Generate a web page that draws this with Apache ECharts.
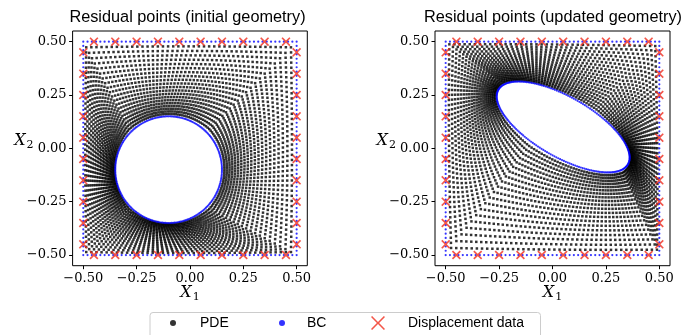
<!DOCTYPE html>
<html>
<head>
<meta charset="utf-8">
<script src="https://cdn.jsdelivr.net/npm/echarts@6/dist/echarts.min.js"></script>
<style>
  html, body { margin: 0; padding: 0; background: #fff; }
  #chart { width: 684px; height: 335px; }
</style>
</head>
<body>
<div id="chart"></div>
<script>
// ---- data ----
const titles = ['Residual points (initial geometry)', 'Residual points (updated geometry)'];
const legendNames = ['PDE', 'BC', 'Displacement data'];
const axisTicks = [-0.5, -0.25, 0, 0.25, 0.5];
const axisRange = [-0.55, 0.55];
// displacement-data coordinates along each side of the square
const dispCoords = [-0.45, -0.35, -0.25, -0.15, -0.05, 0.05, 0.15, 0.25, 0.35, 0.45];
// hole geometry: [centre x, centre y, semi-axis a, semi-axis b, tilt (deg)]
const holeInitial = [-0.10, -0.10, 0.25, 0.25, 0];
const holeUpdated = [0.05, 0.10, 0.35, 0.14, -30];
// mesh resolution
const raysPerSide = 40;     // residual rays per square side
const ringCount = 21;       // ring intervals between hole and outer boundary
const ringGrowth = 0.5;     // ring spacing grows outward
const bcPerSide = 50;       // BC points per square side
const bcOnHole = 220;       // BC points on hole boundary

// ---- geometry helpers ----
function holePoint(h, th) {
  const al = h[4] * Math.PI / 180, c = Math.cos(al), s = Math.sin(al);
  const ux = c * Math.cos(th) + s * Math.sin(th);
  const uy = -s * Math.cos(th) + c * Math.sin(th);
  const px = h[2] * ux, py = h[3] * uy;
  return [h[0] + c * px - s * py, h[1] + s * px + c * py];
}
function squarePoint(k, n) {
  const side = Math.floor(k / n), f = (k % n) / n;
  if (side === 0) return [0.5, -0.5 + f];
  if (side === 1) return [0.5 - f, 0.5];
  if (side === 2) return [-0.5, 0.5 - f];
  return [-0.5 + f, -0.5];
}
function pdePoints(h) {
  const out = [], n = raysPerSide * 4;
  for (let k = 0; k < n; k++) {
    const th = -Math.PI / 4 + k * 2 * Math.PI / n;
    const a = holePoint(h, th), b = squarePoint(k, raysPerSide);
    for (let j = 1; j < ringCount; j++) {
      const u = j / ringCount;
      const t = u * (1 + ringGrowth * u) / (1 + ringGrowth);
      out.push([a[0] + (b[0] - a[0]) * t, a[1] + (b[1] - a[1]) * t]);
    }
  }
  return out;
}
function bcPoints(h) {
  const out = [];
  for (let k = 0; k < bcPerSide * 4; k++) out.push(squarePoint(k, bcPerSide));
  for (let k = 0; k < bcOnHole; k++) out.push(holePoint(h, k * 2 * Math.PI / bcOnHole));
  return out;
}
function dispPoints() {
  const out = [];
  dispCoords.forEach(v => { out.push([v, 0.5]); out.push([v, -0.5]); out.push([-0.5, v]); out.push([0.5, v]); });
  return out;
}

const xSym = 'path://M0,1.8L1.8,0L7,5.2L12.2,0L14,1.8L8.8,7L14,12.2L12.2,14L7,8.8L1.8,14L0,12.2L5.2,7Z';
const xSymLegend = 'path://M0,1.1L1.1,0L7,5.9L12.9,0L14,1.1L8.1,7L14,12.9L12.9,14L7,8.1L1.1,14L0,12.9L5.9,7Z';
const red = '#f02c1c', blue = '#0000ff', black = '#000000';

const tickFmt = v => (v < 0 ? '\u2212' : '') + Math.abs(v).toFixed(2);
const serif = 'DejaVu Serif';
const nameRich = {
  x: { fontFamily: serif, fontStyle: 'italic', fontSize: 16, color: '#000' },
  s: { fontFamily: serif, fontSize: 11, color: '#000', verticalAlign: 'bottom', padding: [9, 0, 0, 1] }
};

const grids = [
  { left: 72.6, top: 31, width: 234.7, height: 234.7 },
  { left: 435, top: 31, width: 235, height: 234.7 }
];
const titleCenters = [187.5, 553];

function xAxisFor(i) {
  return {
    gridIndex: i, type: 'value', min: axisRange[0], max: axisRange[1],
    name: '{x|X}{s|1}', nameLocation: 'middle', nameGap: 17, nameMoveOverlap: false,
    nameTextStyle: { rich: nameRich },
    axisLine: { show: false, onZero: false },
    splitLine: { show: false },
    axisTick: { show: true, length: 3.5, customValues: axisTicks, lineStyle: { color: '#000', width: 1 } },
    axisLabel: { customValues: axisTicks, formatter: tickFmt, fontFamily: serif, fontSize: 13, color: '#000', margin: 6 }
  };
}
function yAxisFor(i) {
  return {
    gridIndex: i, type: 'value', min: axisRange[0], max: axisRange[1],
    name: '{x|X}{s|2}', nameLocation: 'middle', nameGap: 39, nameRotate: 0, nameMoveOverlap: false,
    nameTextStyle: { rich: nameRich, padding: [0, 0, 16, 0] },
    axisLine: { show: false, onZero: false },
    splitLine: { show: false },
    axisTick: { show: true, length: 3.5, customValues: axisTicks, lineStyle: { color: '#000', width: 1 } },
    axisLabel: { customValues: axisTicks, formatter: tickFmt, fontFamily: serif, fontSize: 13, color: '#000', margin: 6 }
  };
}

const holes = [holeInitial, holeUpdated];
const series = [];
holes.forEach((h, i) => {
  series.push({ name: legendNames[0], type: 'scatter', xAxisIndex: i, yAxisIndex: i, data: pdePoints(h),
    symbol: 'rect', symbolSize: 2.5, itemStyle: { color: black }, silent: true, z: 2 });
  series.push({ name: legendNames[1], type: 'scatter', xAxisIndex: i, yAxisIndex: i, data: bcPoints(h),
    symbol: 'circle', symbolSize: 2.2, itemStyle: { color: blue }, silent: true, z: 3 });
  series.push({ name: legendNames[2], type: 'scatter', xAxisIndex: i, yAxisIndex: i, data: dispPoints(),
    symbol: xSym, symbolSize: 9, itemStyle: { color: red }, silent: true, z: 4 });
});

const legendText = { fontFamily: 'Liberation Sans', fontSize: 14, color: '#000', lineHeight: 16 };
const chart = echarts.init(document.getElementById('chart'), null, { renderer: 'canvas' });
chart.setOption({
  animation: false,
  backgroundColor: '#fff',
  title: titles.map((t, i) => ({
    text: t, left: titleCenters[i], textAlign: 'center', top: 10, padding: 0,
    textStyle: { fontFamily: 'Liberation Sans', fontSize: 16.3, fontWeight: 'normal', color: '#000' }
  })),
  grid: grids.map(g => Object.assign({ show: true, borderColor: '#000', borderWidth: 1, backgroundColor: 'transparent', containLabel: false }, g)),
  xAxis: [xAxisFor(0), xAxisFor(1)],
  yAxis: [yAxisFor(0), yAxisFor(1)],
  legend: [
    { data: [{ name: legendNames[0], icon: 'circle' }], left: 170, top: 315, padding: 0, itemWidth: 6, itemHeight: 6,
      textStyle: Object.assign({ padding: [0, 0, 0, 19] }, legendText), selectedMode: false },
    { data: [{ name: legendNames[1], icon: 'circle' }], left: 279, top: 315, padding: 0, itemWidth: 6, itemHeight: 6,
      textStyle: Object.assign({ padding: [0, 0, 0, 17] }, legendText), selectedMode: false },
    { data: [{ name: legendNames[2], icon: xSymLegend }], left: 371, top: 315, padding: 0, itemWidth: 14, itemHeight: 14,
      textStyle: Object.assign({ padding: [0, 0, 0, 18] }, legendText), selectedMode: false }
  ],
  graphic: [
    { type: 'rect', left: 149.5, top: 312, z: -1, silent: true,
      shape: { width: 390.5, height: 34, r: 3 }, style: { fill: '#fff', stroke: '#cccccc', lineWidth: 1 } }
  ],
  series: series
});
</script>
</body>
</html>
